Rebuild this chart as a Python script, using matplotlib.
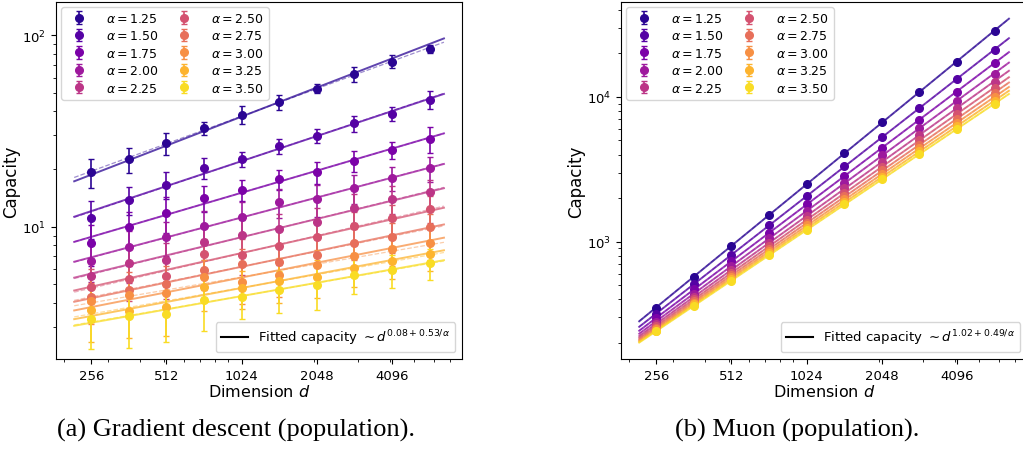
import numpy as np
import matplotlib
matplotlib.use('Agg')
import matplotlib.pyplot as plt
from matplotlib.lines import Line2D
from matplotlib.ticker import FixedLocator, ScalarFormatter, NullFormatter

# dimensions d (sqrt(2) steps) and exponents alpha
dims = [256, 362, 512, 724, 1024, 1448, 2048, 2896, 4096, 5793]
alphas = [1.25, 1.50, 1.75, 2.00, 2.25, 2.50, 2.75, 3.00, 3.25, 3.50]
xtick_vals = [256, 512, 1024, 2048, 4096]

# gradient descent (population), mean capacity per alpha
gd_a125 = [19.2, 22.5, 27.4, 32.7, 38.4, 44.7, 52.5, 62.7, 72.8, 84.7]
gd_a150 = [11.1, 13.8, 16.6, 20.3, 22.6, 26.3, 29.7, 34.6, 39.0, 46.0]
gd_a175 = [8.24, 10.0, 11.8, 14.1, 15.6, 17.7, 19.3, 22.0, 25.1, 28.7]
gd_a200 = [6.64, 7.85, 8.80, 10.1, 11.2, 13.4, 13.9, 15.9, 17.9, 20.2]
gd_a225 = [5.51, 6.50, 6.69, 8.34, 9.05, 9.69, 10.6, 12.6, 14.0, 15.1]
gd_a250 = [4.84, 5.32, 5.51, 7.19, 7.11, 7.95, 8.80, 10.1, 11.1, 12.4]
gd_a275 = [4.29, 4.70, 5.04, 5.98, 6.37, 6.55, 7.11, 8.18, 8.87, 10.0]
gd_a300 = [4.09, 4.39, 4.51, 5.47, 5.15, 5.58, 6.30, 7.01, 7.61, 8.18]
gd_a325 = [3.69, 3.62, 3.80, 4.85, 4.81, 5.21, 5.47, 6.06, 6.61, 7.19]
gd_a350 = [3.31, 3.44, 3.51, 4.13, 4.30, 4.70, 4.95, 5.62, 5.98, 6.47]

# error bars (std) for gradient descent
gd_e125 = [3.3, 3.4, 3.6, 2.5, 4.2, 3.8, 2.8, 5.8, 5.7, 3.7]
gd_e150 = [2.5, 2.3, 2.6, 2.6, 2.0, 2.4, 2.5, 3.3, 3.3, 5.0]
gd_e175 = [2.0, 2.0, 2.5, 2.2, 2.0, 2.1, 2.5, 2.8, 2.5, 4.4]
gd_e200 = [1.5, 1.6, 1.8, 2.0, 2.2, 2.3, 2.6, 2.8, 2.5, 3.0]
gd_e225 = [1.3, 1.4, 1.5, 1.6, 1.8, 1.9, 2.0, 2.2, 2.3, 2.5]
gd_e250 = [1.2, 1.2, 1.3, 1.4, 1.5, 1.6, 1.7, 1.8, 1.9, 2.0]
gd_e275 = [1.1, 1.1, 1.2, 1.3, 1.3, 1.4, 1.5, 1.5, 1.6, 1.7]
gd_e300 = [1.0, 1.0, 1.1, 1.2, 1.2, 1.3, 1.3, 1.4, 1.4, 1.5]
gd_e325 = [1.2, 1.0, 1.1, 1.2, 1.1, 1.2, 1.2, 1.2, 1.3, 1.3]
gd_e350 = [1.0, 1.1, 1.0, 1.26, 1.0, 1.16, 1.26, 1.14, 1.17, 1.22]

# muon (population)
mu_a125 = [351, 574, 938, 1535, 2512, 4089, 6658, 10827, 17545, 28520]
mu_a150 = [318, 509, 812, 1301, 2079, 3316, 5274, 8380, 13280, 21100]
mu_a175 = [296, 468, 733, 1156, 1816, 2854, 4465, 6977, 10885, 17010]
mu_a200 = [281, 438, 679, 1057, 1641, 2551, 3939, 6081, 9374, 14470]
mu_a225 = [269, 417, 639, 986, 1515, 2335, 3571, 5459, 8337, 12750]
mu_a250 = [261, 401, 609, 933, 1423, 2179, 3305, 5014, 7600, 11530]
mu_a275 = [254, 388, 586, 892, 1352, 2059, 3103, 4679, 7050, 10630]
mu_a300 = [248, 378, 567, 859, 1295, 1962, 2943, 4414, 6616, 9924]
mu_a325 = [243, 369, 551, 832, 1249, 1884, 2813, 4201, 6270, 9363]
mu_a350 = [240, 362, 538, 810, 1210, 1820, 2706, 4025, 5986, 8906]
mu_err = [4, 3, 3, 3, 2, 2, 2, 2, 2, 2]

gd_capacity = [gd_a125, gd_a150, gd_a175, gd_a200, gd_a225,
               gd_a250, gd_a275, gd_a300, gd_a325, gd_a350]
gd_errors = [gd_e125, gd_e150, gd_e175, gd_e200, gd_e225,
             gd_e250, gd_e275, gd_e300, gd_e325, gd_e350]
mu_capacity = [mu_a125, mu_a150, mu_a175, mu_a200, mu_a225,
               mu_a250, mu_a275, mu_a300, mu_a325, mu_a350]

# fitted exponent: d^(a + b/alpha)
gd_fit = (0.08, 0.53)
mu_fit = (1.02, 0.49)

colors = plt.cm.plasma(np.linspace(0.05, 0.93, len(alphas)))

fig = plt.figure(figsize=(10.23, 4.52), dpi=100)
W, H = 1023, 452
ax1 = fig.add_axes([56 / W, 92 / H, 406 / W, 357 / H])
ax2 = fig.add_axes([621 / W, 92 / H, 406 / W, 357 / H])


def draw_panel(ax, capacity, errors, fit, ylim):
    d = np.array(dims, dtype=float)
    d_line = np.geomspace(d[0] / 1.17, d[-1] * 1.14, 60)
    handles = []
    for i, a in enumerate(alphas):
        c = np.array(capacity[i], dtype=float)
        err = errors[i]
        h = ax.errorbar(d, c, yerr=err, fmt='o', color=colors[i], ms=5.5,
                        capsize=2.5, elinewidth=1.2, capthick=1.0,
                        label=r'$\alpha = %.2f$' % a, zorder=3)
        handles.append(h)
        # global model with fixed exponent, prefactor fitted
        e = fit[0] + fit[1] / a
        logA = np.mean(np.log(c) - e * np.log(d))
        ax.plot(d_line, np.exp(logA) * d_line ** e, '-', color=colors[i],
                lw=1.4, alpha=0.75, zorder=2)
        # individual power-law fit
        p = np.polyfit(np.log(d), np.log(c), 1)
        ax.plot(d_line, np.exp(np.polyval(p, np.log(d_line))), '--',
                color=colors[i], lw=0.9, alpha=0.45, zorder=2)

    ax.set_xscale('log')
    ax.set_yscale('log')
    ax.set_xlim(185, 7800)
    ax.set_ylim(*ylim)
    ax.xaxis.set_major_locator(FixedLocator(xtick_vals))
    ax.xaxis.set_major_formatter(ScalarFormatter())
    ax.xaxis.set_minor_formatter(NullFormatter())
    ax.tick_params(labelsize=9.5)
    ax.set_xlabel(r'Dimension $d$', fontsize=11.5, labelpad=1)
    ax.set_ylabel('Capacity', fontsize=12, labelpad=1.5)

    leg1 = ax.legend(handles=handles, loc='upper left', ncol=2, fontsize=9,
                     labelspacing=0.35, columnspacing=1.0,
                     handletextpad=1.2, borderaxespad=0.4)
    ax.add_artist(leg1)
    fit_label = r'Fitted capacity $\sim d^{%.2f + %.2f/\alpha}$' % fit
    ax.legend(handles=[Line2D([0], [0], color='black', lw=1.5)],
              labels=[fit_label], loc='lower right', fontsize=9.5,
              borderaxespad=0.5)


draw_panel(ax1, gd_capacity, gd_errors, gd_fit, (2.04, 149))
draw_panel(ax2, mu_capacity, [[e] * len(dims) for e in mu_err], mu_fit,
           (155, 45200))

fig.text(236 / W, 1 - 430 / H, '(a) Gradient descent (population).',
         family='Liberation Serif', fontsize=19, ha='center', va='center')
fig.text(797 / W, 1 - 430 / H, '(b) Muon (population).',
         family='Liberation Serif', fontsize=19, ha='center', va='center')

fig.savefig('out.png', dpi=100)
